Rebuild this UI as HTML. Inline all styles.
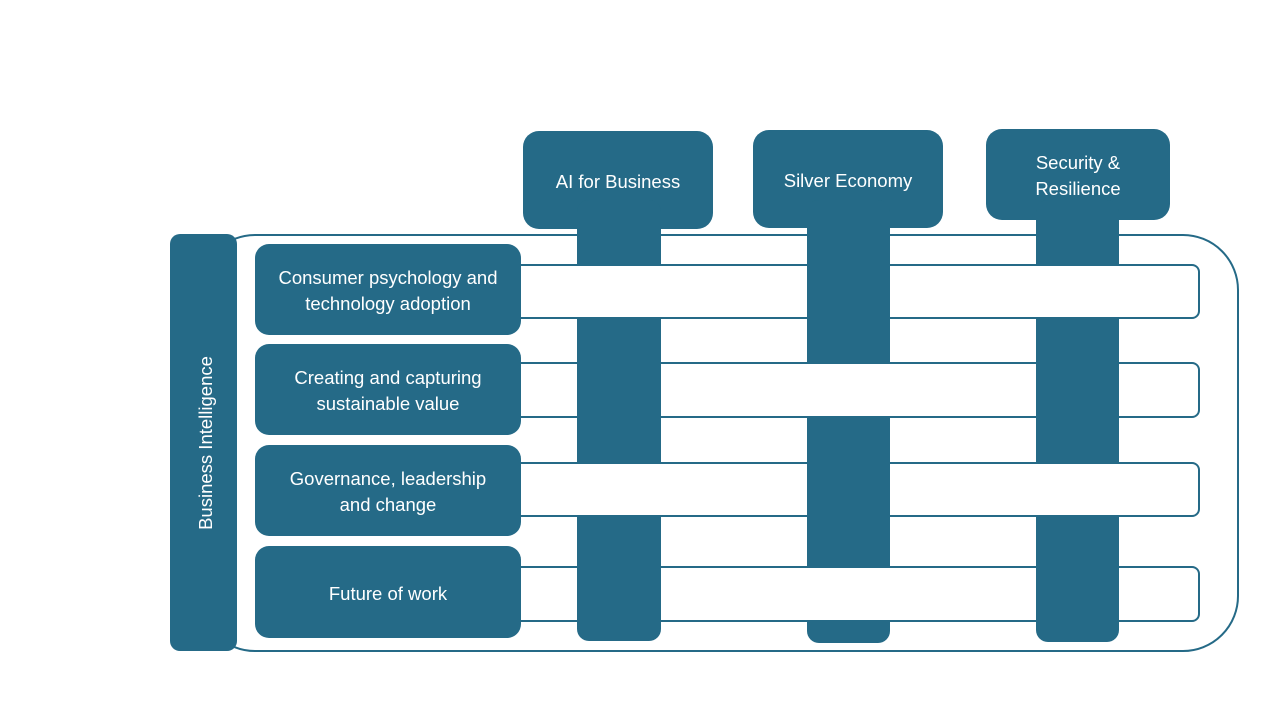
<!DOCTYPE html>
<html><head><meta charset="utf-8"><style>
html,body{margin:0;padding:0;background:#fff;width:1280px;height:720px;overflow:hidden}
svg text{font-family:"Liberation Sans",sans-serif;fill:#fff;font-size:18.5px}
</style></head><body>
<svg width="1280" height="720" viewBox="0 0 1280 720" xmlns="http://www.w3.org/2000/svg">
<rect x="200" y="235" width="1038" height="416" rx="55" ry="55" fill="none" stroke="#256a87" stroke-width="2"/>
<rect x="523" y="131" width="190" height="98" rx="16" fill="#256a87"/>
<rect x="753" y="130" width="190" height="98" rx="16" fill="#256a87"/>
<rect x="986" y="129" width="184" height="91" rx="16" fill="#256a87"/>
<rect x="577" y="200" width="84" height="441" rx="12" fill="#256a87"/>
<rect x="807" y="200" width="83" height="443" rx="12" fill="#256a87"/>
<rect x="1036" y="200" width="83" height="442" rx="12" fill="#256a87"/>
<rect x="470" y="265" width="729" height="53" rx="7" fill="#fff" stroke="#256a87" stroke-width="2"/>
<rect x="470" y="363" width="729" height="54" rx="7" fill="#fff" stroke="#256a87" stroke-width="2"/>
<rect x="470" y="463" width="729" height="53" rx="7" fill="#fff" stroke="#256a87" stroke-width="2"/>
<rect x="470" y="567" width="729" height="54" rx="7" fill="#fff" stroke="#256a87" stroke-width="2"/>
<rect x="807" y="262" width="83" height="59" fill="#256a87"/>
<rect x="807" y="460" width="83" height="59" fill="#256a87"/>
<rect x="577" y="360" width="84" height="60" fill="#256a87"/>
<rect x="1036" y="360" width="83" height="60" fill="#256a87"/>
<rect x="577" y="564" width="84" height="60" fill="#256a87"/>
<rect x="1036" y="564" width="83" height="60" fill="#256a87"/>
<rect x="170" y="234" width="67" height="417" rx="10" fill="#256a87"/>
<text transform="translate(212,443) rotate(-90)" text-anchor="middle">Business Intelligence</text>
<rect x="255" y="244" width="266" height="91" rx="14" fill="#256a87"/>
<rect x="255" y="344" width="266" height="91" rx="14" fill="#256a87"/>
<rect x="255" y="445" width="266" height="91" rx="14" fill="#256a87"/>
<rect x="255" y="546" width="266" height="92" rx="14" fill="#256a87"/>
<g text-anchor="middle">
<text x="388" y="284">Consumer psychology and</text>
<text x="388" y="310">technology adoption</text>
<text x="388" y="384">Creating and capturing</text>
<text x="388" y="410">sustainable value</text>
<text x="388" y="485">Governance, leadership</text>
<text x="388" y="511">and change</text>
<text x="388" y="600">Future of work</text>
<text x="618" y="188">AI for Business</text>
<text x="848" y="187">Silver Economy</text>
<text x="1078" y="169">Security &amp;</text>
<text x="1078" y="195">Resilience</text>
</g>
</svg>
</body></html>
